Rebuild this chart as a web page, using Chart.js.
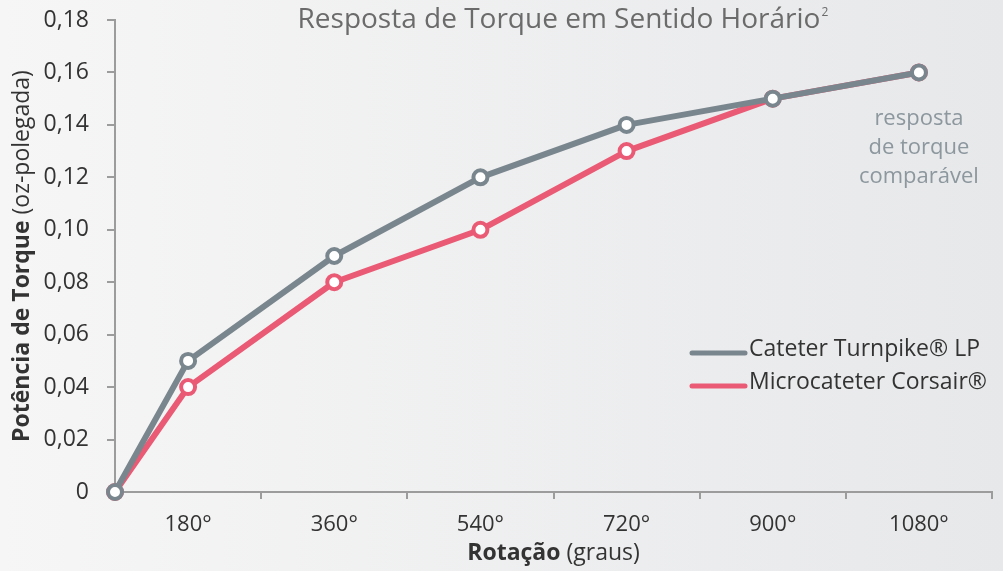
<!DOCTYPE html>
<html>
<head>
<meta charset="utf-8">
<script src="https://cdn.jsdelivr.net/npm/chart.js@4.4.1/dist/chart.umd.min.js"></script>
<style>
    html, body { margin: 0; padding: 0; background: #eeeff0; }
    #chart { display: block; }
</style>
</head>
<body>
<canvas id="chart" width="1003" height="571"></canvas>
<script>
// Chart data
var rotationDegrees = [0, 180, 360, 540, 720, 900, 1080];
var rotationLabels = ['180°', '360°', '540°', '720°', '900°', '1080°'];
var turnpikeTorque = [0, 0.05, 0.09, 0.12, 0.14, 0.15, 0.16];
var corsairTorque = [0, 0.04, 0.08, 0.10, 0.13, 0.15, 0.16];
var seriesNames = ['Cateter Turnpike® LP', 'Microcateter Corsair®'];
var noteLines = ['resposta', 'de torque', 'comparável'];
var chartTitle = 'Resposta de Torque em Sentido Horário';
var titleNote = '2';

var fontFamily = '"Open Sans", "Noto Sans", sans-serif';
var axisColor = '#9c9c9c';
var textColor = '#333333';
var grayLine = '#7a868d';
var pinkLine = '#ea5a74';

// Each label sits in the middle of its band, the origin sits on the axis corner
function bandPosition(deg) {
    if (deg === 0) return 0;
    return deg / 180 - 0.5;
}

function toPoints(values) {
    return values.map((v, i) => ({ x: bandPosition(rotationDegrees[i]), y: v }));
}

// Writes a text made of a bold part and a normal part, centred on (x, y)
function drawMixedText(ctx, boldPart, normalPart, x, y, size) {
    var boldFont = 'bold ' + size + 'px ' + fontFamily;
    var normalFont = size + 'px ' + fontFamily;
    ctx.font = boldFont;
    var wBold = ctx.measureText(boldPart).width;
    ctx.font = normalFont;
    var wNormal = ctx.measureText(normalPart).width;
    var start = x - (wBold + wNormal) / 2;
    ctx.textBaseline = 'middle';
    ctx.textAlign = 'left';
    ctx.font = boldFont;
    ctx.fillText(boldPart, start, y);
    ctx.font = normalFont;
    ctx.fillText(normalPart, start + wBold, y);
}

var decorPlugin = {
    id: 'decor',
    beforeDraw(chart) {
        var ctx = chart.ctx;
        var grad = ctx.createLinearGradient(0, 0, chart.width, 0);
        grad.addColorStop(0, '#f6f6f6');
        grad.addColorStop(1, '#e7e8ea');
        ctx.save();
        ctx.fillStyle = grad;
        ctx.fillRect(0, 0, chart.width, chart.height);
        ctx.restore();
    },
    afterDraw(chart) {
        var ctx = chart.ctx;
        var area = chart.chartArea;
        var xScale = chart.scales.x;
        var yScale = chart.scales.y;
        ctx.save();

        // Title with a small superscript note number
        ctx.fillStyle = '#6b6b6b';
        ctx.font = '28px ' + fontFamily;
        ctx.textBaseline = 'middle';
        ctx.textAlign = 'left';
        var wTitle = ctx.measureText(chartTitle).width;
        var titleX = 559 - wTitle / 2;
        ctx.fillText(chartTitle, titleX, 20);
        ctx.font = '12px ' + fontFamily;
        ctx.fillText(titleNote, titleX + wTitle + 1, 13);

        // Axis titles
        ctx.fillStyle = textColor;
        drawMixedText(ctx, 'Rotação', ' (graus)', (area.left + area.right) / 2, 553, 23);
        ctx.save();
        ctx.translate(22, (area.top + area.bottom) / 2);
        ctx.rotate(-Math.PI / 2);
        drawMixedText(ctx, 'Potência de Torque', ' (oz-polegada)', 0, 0, 23);
        ctx.restore();

        // Note under the last point
        var last = rotationDegrees.length - 1;
        var noteX = xScale.getPixelForValue(bandPosition(rotationDegrees[last]));
        ctx.fillStyle = '#8c979e';
        ctx.font = '22px ' + fontFamily;
        ctx.textAlign = 'center';
        noteLines.forEach((line, i) => {
            ctx.fillText(line, noteX, yScale.getPixelForValue(0.1425) + i * 29);
        });

        // Legend
        var legendY = yScale.getPixelForValue(0.053);
        chart.data.datasets.forEach((ds, i) => {
            var y = legendY + i * 33;
            ctx.strokeStyle = ds.borderColor;
            ctx.lineWidth = 5;
            ctx.lineCap = 'round';
            ctx.beginPath();
            ctx.moveTo(692, y);
            ctx.lineTo(745, y);
            ctx.stroke();
            ctx.fillStyle = textColor;
            ctx.font = '23px ' + fontFamily;
            ctx.textAlign = 'left';
            ctx.fillText(ds.label, 749, y - 4);
        });
        ctx.restore();
    }
};

var config = {
    type: 'line',
    data: {
        datasets: [
            {
                label: seriesNames[0],
                data: toPoints(turnpikeTorque),
                borderColor: grayLine,
                pointBorderColor: grayLine,
                clip: false
            },
            {
                label: seriesNames[1],
                data: toPoints(corsairTorque),
                borderColor: pinkLine,
                pointBorderColor: pinkLine,
                clip: false
            }
        ]
    },
    options: {
        responsive: false,
        devicePixelRatio: 1,
        animation: false,
        layout: { padding: { top: 20, right: 5, left: 0, bottom: 0 } },
        elements: {
            line: { borderWidth: 6, tension: 0, borderJoinStyle: 'round', borderCapStyle: 'round' },
            point: { radius: 7, borderWidth: 4, backgroundColor: '#ffffff', hoverRadius: 7 }
        },
        plugins: {
            legend: { display: false },
            tooltip: { enabled: false }
        },
        scales: {
            x: {
                type: 'linear',
                min: 0,
                max: rotationLabels.length,
                afterBuildTicks: (scale) => {
                    var ticks = [];
                    for (var i = 0; i <= rotationLabels.length * 2; i++) ticks.push({ value: i / 2 });
                    scale.ticks = ticks;
                },
                afterFit: (scale) => {
                    scale.height = 79;
                    scale.paddingLeft = 0;
                    scale.paddingRight = 0;
                },
                border: { color: axisColor, width: 2 },
                grid: {
                    drawOnChartArea: false,
                    tickLength: 7,
                    lineWidth: 2,
                    color: (ctx) => (ctx.tick && ctx.tick.value % 1 === 0) ? axisColor : 'rgba(0,0,0,0)'
                },
                ticks: {
                    autoSkip: false,
                    maxRotation: 0,
                    padding: 13,
                    color: textColor,
                    font: { family: fontFamily, size: 22 },
                    callback: (value) => (value % 1 === 0.5) ? rotationLabels[Math.floor(value)] : ''
                }
            },
            y: {
                min: 0,
                max: 0.18,
                afterFit: (scale) => {
                    scale.width = 115;
                    scale.paddingTop = 0;
                    scale.paddingBottom = 0;
                },
                border: { color: axisColor, width: 2 },
                grid: { drawOnChartArea: false, tickLength: 8, lineWidth: 2, color: axisColor },
                ticks: {
                    stepSize: 0.02,
                    padding: 18,
                    color: textColor,
                    font: { family: fontFamily, size: 23 },
                    callback: (value) => value === 0 ? '0' : value.toFixed(2).replace('.', ',')
                }
            }
        }
    },
    plugins: [decorPlugin]
};

var chartObj = new Chart(document.getElementById('chart'), config);
</script>
</body>
</html>
